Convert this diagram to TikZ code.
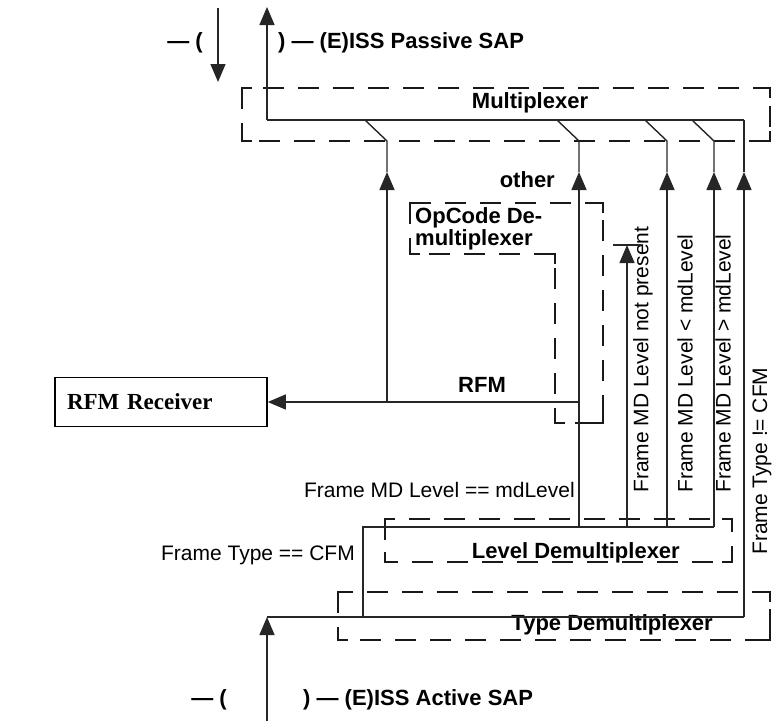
\documentclass[tikz,border=0pt]{standalone}
\usepackage{fontspec}
\setmainfont{Liberation Sans}
\newfontfamily\recvfont{Liberation Serif}
\usetikzlibrary{arrows.meta}
\tikzset{
  wire/.style={line width=1.4pt, draw=black!85},
  flow/.style={wire, -{Triangle[width=15pt,length=18pt]}},
  frame/.style={line width=2.8pt, draw=black!90, dash pattern=on 21pt off 14pt},
  tick/.style={line width=2.8pt, draw=black!90},
  lbl/.style={inner sep=0pt, font=\fontsize{21}{22}\selectfont},
  blbl/.style={inner sep=0pt, font=\fontsize{22}{22}\selectfont\bfseries},
}
\begin{document}
\begin{tikzpicture}[x=1pt, y=-1pt]
\useasboundingbox (0,0) rectangle (777,721);

% dashed boxes with corner marks
\foreach \xa/\ya/\xb/\yb in {242/88/770/141, 385/519/732/562, 338/592/770/640} {
  \draw[frame] (\xa,\ya) rectangle (\xb,\yb);
  \draw[tick] (\xa,\ya+10) |- (\xa+10,\ya);
  \draw[tick] (\xb-10,\ya) -| (\xb,\ya+10);
  \draw[tick] (\xa,\yb-10) |- (\xa+10,\yb);
  \draw[tick] (\xb-10,\yb) -| (\xb,\yb-10);
}
\draw[frame] (410,203) -- (603,203) -- (603,423) -- (555,423) -- (555,254) -- (410,254) -- cycle;
\draw[tick] (410,213) |- (420,203);
\draw[tick] (593,203) -| (603,213);
\draw[tick] (603,413) |- (593,423);
\draw[tick] (565,423) -| (555,413);
\draw[tick] (545,254) -| (555,264);
\draw[tick] (420,254) -| (410,244);

% labels
\node[blbl, anchor=east] (pasL) at (203,43) {— (};
\node[blbl, anchor=west] (pasR) at (278,43) {) — (E)ISS Passive SAP};
\node[blbl, anchor=east] (actL) at (227,700) {— (};
\node[blbl, anchor=west] (actR) at (303,700) {) — (E)ISS Active SAP};
\node[blbl] (mux) at (530,103) {Multiplexer};
\node[blbl, anchor=east] (lvl) at (680,553) {Level Demultiplexer};
\node[blbl, anchor=east] (typ) at (713,625) {Type Demultiplexer};
\node[blbl, anchor=north west, align=left] (opc) at (415,207) {OpCode De-\\multiplexer};
\node[blbl, anchor=east] (other) at (555,180) {other};
\node[blbl] (rfm) at (482,385) {RFM};
\node[lbl, anchor=east] (mdeq) at (575,490) {Frame MD Level == mdLevel};
\node[lbl, anchor=east] (tyeq) at (355,555) {Frame Type == CFM};
\node[lbl, anchor=west, rotate=90] (mdnp) at (643,493) {Frame MD Level not present};
\node[lbl, anchor=west, rotate=90] (mdlt) at (685,493) {Frame MD Level < mdLevel};
\node[lbl, anchor=west, rotate=90] (mdgt) at (723,493) {Frame MD Level > mdLevel};
\node[lbl, anchor=west, rotate=90] (tyne) at (762,555) {Frame Type != CFM};
\node[draw, line width=1.6pt, text width=188pt, align=left, inner xsep=12pt,
      minimum height=49pt, font=\fontsize{23}{23}\selectfont\recvfont\bfseries]
      (recv) at (161,402) {RFM Receiver};

% service access points
\coordinate (pasUp) at (267,7);
\coordinate (pasDnA) at (218,8);
\coordinate (pasDnB) at (218,82);
\coordinate (actB) at (267,721);
\draw[flow] (pasDnA) -- (pasDnB);

% multiplexer bus and switches
\coordinate (muxW) at (267,120);
\coordinate (muxE) at (744,120);
\draw[flow] (muxW) -- (pasUp);
\draw[wire] (muxW) -- (muxE);
\foreach \x/\n in {387/r, 579/o, 667/l, 714/g} {
  \coordinate (sw\n) at (\x,141);
  \coordinate (on\n) at (\x-22,120);
  \coordinate (tip\n) at (\x,172);
  \draw[wire] (on\n) -- (sw\n) -- (tip\n);
}
\coordinate (tipt) at (744,172);
\draw[wire] (tipt) -- (muxE);

% type demultiplexer
\coordinate (typW) at (267,617);
\coordinate (typE) at (744,617);
\draw[flow] (actB) -- (typW);
\draw[wire] (typW) -- (typE);
\draw[flow] (typE) -- (tipt);

% level demultiplexer
\coordinate (lvlS) at (363,617);
\coordinate (lvlW) at (363,527);
\coordinate (lvlO) at (579,527);
\coordinate (lvlN) at (627,527);
\coordinate (lvlL) at (667,527);
\coordinate (lvlE) at (714,527);
\draw[wire] (lvlS) -- (lvlW) -- (lvlE);
\draw[flow] (lvlO) -- (tipo);
\draw[flow] (lvlL) -- (tipl);
\draw[flow] (lvlE) -- (tipg);

% not present: blocked
\coordinate (npTip) at (627,245);
\coordinate (npBarW) at (613,245);
\coordinate (npBarE) at (641,245);
\draw[flow] (lvlN) -- (npTip);
\draw[wire, line width=2pt] (npBarW) -- (npBarE);

% opcode demultiplexer, RFM branch
\coordinate (rfmS) at (579,402);
\coordinate (rfmJ) at (387,402);
\draw[flow] (rfmS) -- (recv.east);
\draw[flow] (rfmJ) -- (tipr);
\end{tikzpicture}
\end{document}
